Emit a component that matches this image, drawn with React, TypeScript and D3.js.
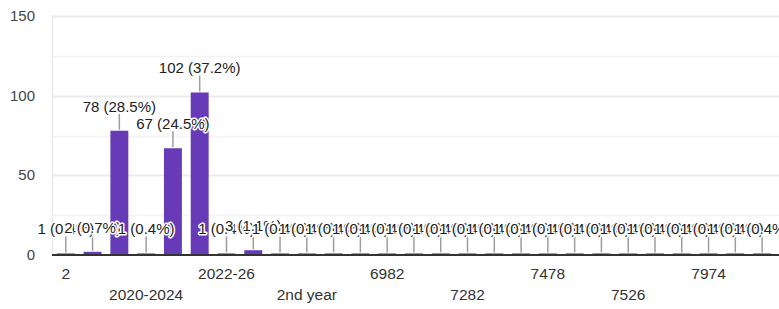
import React from "react";
import * as d3 from "d3";

const categories: string[] = [
  "2", "2019-2023", "2020 - 2024", "2020-2024", "2021 - 2025", "2022 - 2026",
  "2022-26", "2023-2027", "2nd", "2nd year", "3rd year", "4th year",
  "6982", "7012", "7145", "7282", "7301", "7415", "7478", "7490", "7512",
  "7526", "7631", "7820", "7974", "8023", "8160",
];
const counts: number[] = [
  1, 2, 78, 1, 67, 102, 1, 3, 1, 1, 1, 1, 1, 1, 1, 1, 1, 1, 1, 1, 1, 1, 1, 1, 1, 1, 1,
];
const yTicks: number[] = [0, 50, 100, 150];
const yGrid: number[] = [25, 50, 75, 100, 125, 150];

const W = 779;
const H = 309;
const FONT = "'Liberation Sans', Arial, sans-serif";

export default function App() {
  const total = d3.sum(counts);
  const x = d3
    .scaleBand<string>()
    .domain(categories)
    .range([52.4, 775.5])
    .paddingInner(0.33)
    .paddingOuter(0.165);
  const y = d3.scaleLinear().domain([0, 150]).range([255, 16]);

  const fmt = (v: number) => `${v} (${((v / total) * 100).toFixed(1)}%)`;

  return (
    <div style={{ position: "fixed", left: 0, top: 0 }}>
      <svg width={W} height={H} style={{ display: "block", background: "#fff" }}>
        {/* gridlines */}
        {yGrid.map((t) => (
          <line
            key={"g" + t}
            x1={52}
            x2={W}
            y1={Math.round(y(t)) + 0.5}
            y2={Math.round(y(t)) + 0.5}
            stroke={t % 50 === 0 ? "#ebebeb" : "#f3f3f3"}
            strokeWidth={t % 50 === 0 ? 2 : 1.5}
          />
        ))}
        <line x1={52.5} x2={52.5} y1={y(150) - 1} y2={255} stroke="#ebebeb" strokeWidth={1.5} />
        {/* y tick labels */}
        {yTicks.map((t) => (
          <text
            key={"yt" + t}
            x={35}
            y={y(t) + 1}
            textAnchor="end"
            dominantBaseline="middle"
            fontFamily={FONT}
            fontSize={15}
            fill="#444"
          >
            {t}
          </text>
        ))}
        {/* bars */}
        {categories.map((c, i) => (
          <rect
            key={"b" + c}
            x={x(c)}
            y={y(counts[i])}
            width={x.bandwidth()}
            height={y(0) - y(counts[i])}
            fill="#673ab7"
          />
        ))}
        {/* baseline */}
        <line x1={52} x2={W} y1={255} y2={255} stroke="#333" strokeWidth={2} />
        {/* leader lines */}
        {categories.map((c, i) => {
          const cx = (x(c) as number) + x.bandwidth() / 2;
          const top = y(counts[i]);
          return (
            <line
              key={"l" + c}
              x1={cx}
              x2={cx}
              y1={top - 1}
              y2={top - 17}
              stroke="#9e9e9e"
              strokeWidth={1.5}
            />
          );
        })}
        {/* data labels */}
        {categories.map((c, i) => {
          const cx = (x(c) as number) + x.bandwidth() / 2;
          const top = y(counts[i]);
          return (
            <text
              key={"t" + c}
              x={cx}
              y={top - 19}
              textAnchor="middle"
              fontFamily={FONT}
              fontSize={15}
              fill="#222"
              stroke="#fff"
              strokeWidth={3}
              strokeLinejoin="round"
              paintOrder="stroke"
            >
              {fmt(counts[i])}
            </text>
          );
        })}
        {/* x tick labels */}
        {categories.map((c, i) => {
          if (i % 3 !== 0) return null;
          const row = (i / 3) % 2;
          const cx = (x(c) as number) + x.bandwidth() / 2;
          return (
            <text
              key={"x" + c}
              x={cx}
              y={row === 0 ? 278.5 : 300}
              textAnchor="middle"
              fontFamily={FONT}
              fontSize={15.5}
              fill="#333"
            >
              {c}
            </text>
          );
        })}
      </svg>
    </div>
  );
}
